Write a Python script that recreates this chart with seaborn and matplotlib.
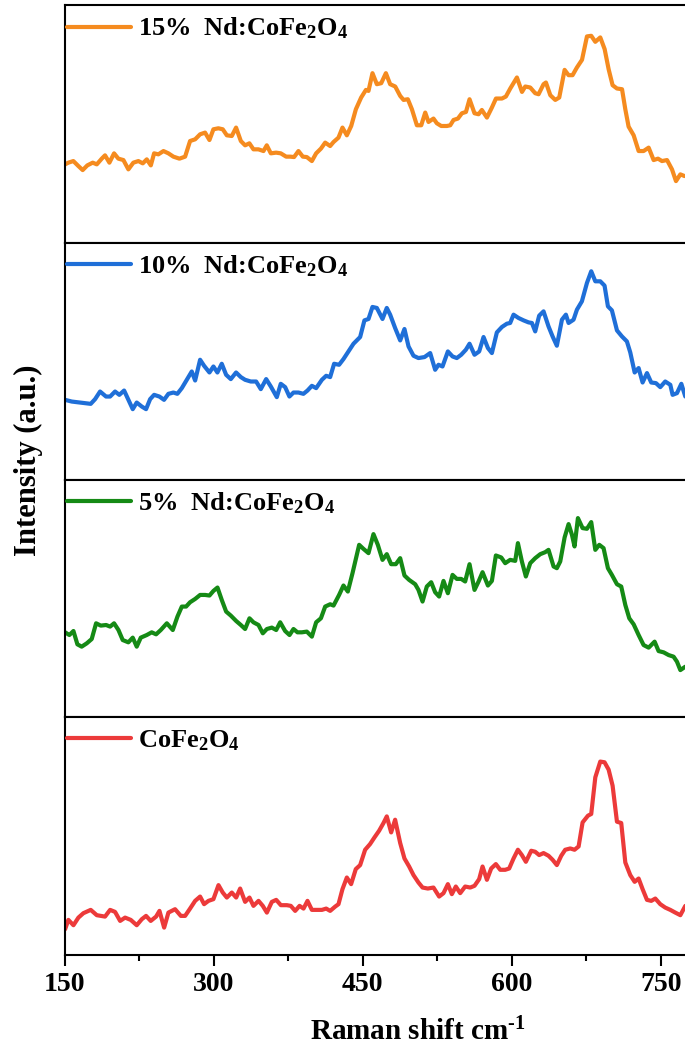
import matplotlib
matplotlib.use("Agg")
import matplotlib.pyplot as plt
from matplotlib.ticker import AutoMinorLocator
import seaborn as sns

# ---- Raman spectra (intensity in arbitrary units) ----
shift_15 = [150.5, 153.8, 158.8, 163.9, 168.2, 172.9, 178.3, 182.4, 187.4, 190.7,
            195.1, 199.8, 204.1, 209.2, 214.2, 219.2, 224.3, 228.7, 232.7, 236.8,
            240.1, 244.4, 249.5, 254.5, 259.5, 265.6, 271.3, 276.3, 281.4, 286.4,
            291.4, 295.8, 299.8, 304.8, 309.2, 313.3, 318.3, 322.6, 327.4, 331.7,
            336.0, 340.1, 345.1, 350.2, 353.5, 357.6, 362.9, 367.6, 373.0, 377.0,
            381.0, 385.4, 389.8, 393.8, 398.9, 403.2, 408.0, 412.3, 417.3, 420.7,
            425.7, 429.7, 434.1, 438.5, 443.2, 448.5, 453.3, 455.9, 459.9, 464.3,
            468.7, 473.4, 477.7, 482.8, 487.8, 491.2, 495.5, 499.6, 504.6, 509.0,
            513.0, 516.3, 521.3, 524.7, 529.1, 534.8, 538.2, 541.5, 545.9, 549.9,
            554.0, 557.6, 562.6, 566.7, 570.0, 575.1, 580.1, 584.2, 590.2, 594.2,
            598.6, 605.3, 610.4, 613.7, 618.7, 623.7, 627.1, 632.1, 634.5, 638.9,
            643.9, 647.9, 653.3, 657.3, 661.3, 665.7, 670.8, 675.8, 680.1, 684.2,
            689.2, 693.6, 697.6, 701.6, 706.0, 711.1, 714.4, 717.7, 722.8, 727.8,
            732.8, 737.9, 742.9, 747.3, 751.3, 756.4, 761.4, 765.4, 769.8, 774.1]
int_15 = [78, 79.7, 81.3, 76.3, 72.3, 77, 79.7, 78, 83.7, 87,
          79.7, 89, 83.7, 82.3, 73, 79.7, 81.3, 79, 83, 77,
          89, 88, 91.3, 89, 85.7, 83.7, 85.7, 101.3, 103, 108,
          109.7, 102.3, 113, 114, 113, 107, 106.3, 114.7, 101.3, 97,
          99, 93, 93, 91.3, 97, 89, 89.7, 89, 85.7, 85.7,
          85.3, 91.3, 85.7, 85.3, 81.3, 89, 93.7, 99.7, 96.3, 100.3,
          104.7, 114.7, 107, 116.3, 133, 144.7, 152.3, 151.3, 169, 158,
          159, 169, 158, 155.7, 146.3, 142.3, 143, 133, 117, 117,
          129.7, 120.3, 123.7, 119, 116.3, 116.3, 117, 122.3, 123.7, 129,
          130.3, 143, 129, 128, 132.3, 124.7, 134.7, 143.7, 143.7, 145.7,
          153.7, 164.7, 150.3, 155.7, 154.7, 149, 148, 158, 159.7, 147,
          142.3, 144.7, 172.3, 167, 167, 174.7, 182.3, 205.7, 206.3, 200.3,
          204.7, 193, 173, 157, 153.7, 153, 133, 115.7, 107, 91.3,
          91.3, 94.7, 82.3, 83.7, 81.3, 82.3, 73, 61.3, 68, 66.3]

shift_10 = [150.5, 157.2, 165.6, 176.3, 180.7, 185.7, 191.7, 195.8, 200.8, 205.1,
            209.9, 214.2, 218.6, 222.6, 227.7, 232.0, 236.1, 240.1, 245.4, 250.1,
            254.5, 259.5, 263.5, 268.0, 273.0, 278.0, 281.4, 286.4, 290.4, 295.8,
            299.8, 303.8, 308.2, 312.6, 317.3, 322.6, 327.4, 331.7, 337.4, 342.8,
            347.5, 352.9, 357.6, 363.6, 367.6, 372.0, 376.3, 380.4, 385.4, 390.4,
            394.5, 398.9, 403.2, 409.0, 413.3, 417.3, 421.3,
            426.3, 430.7, 435.7, 440.8, 447.5, 451.8, 455.9, 459.9, 464.3, 470.0,
            474.3, 477.7, 482.7, 487.8, 492.1, 496.2, 501.2, 506.2, 512.3, 518.0,
            523.0, 526.4, 530.4, 535.8, 540.5, 544.8, 549.2, 553.9, 557.6, 562.6,
            567.3, 571.7, 576.1, 580.1, 585.1, 590.2, 595.2, 598.5, 601.9, 606.9,
            612.0, 617.0, 620.4, 623.7, 627.7, 632.1, 637.1, 641.2, 645.5, 650.6,
            654.6, 657.3, 662.3, 665.7, 670.7, 675.8, 680.1, 684.2, 689.2, 693.5,
            696.9, 700.9, 706.0, 711.0, 716.0, 719.4, 723.8, 727.8, 731.8, 736.2,
            740.5, 745.2, 749.6, 754.6, 759.7, 762.0, 766.4, 770.8, 774.8]
int_10 = [80, 78.3, 77.3, 76, 80.7, 88.3, 83.3, 83.3, 88.3, 85,
          89.3, 80, 70.7, 77.3, 73.3, 70.7, 80.7, 85, 83.3, 80,
          86, 87.3, 86, 91.7, 100, 108.3, 99.3, 120, 114, 107.3,
          113.3, 107.3, 116, 105, 100.7, 107.3, 102.7, 100, 98.3, 98.3,
          90.7, 100.7, 93.3, 82.7, 96, 92.7, 83.3, 87.3, 87.3, 86,
          89.3, 94, 91.7, 100, 104, 102.7, 116,
          115, 120.7, 128.3, 136, 142.7, 159.3, 160.7, 172.7, 171.7, 160.7,
          171.7, 165, 151.7, 139.3, 150.7, 133.3, 124, 121.7, 122.7, 126.7,
          110, 115, 113.3, 128.3, 123.3, 121.7, 125, 130, 136, 125,
          128.3, 142.7, 131.7, 126.7, 147.3, 152.7, 156, 156.7, 165, 161.7,
          159.3, 157.3, 156.7, 148.3, 164, 168.3, 153.3, 143.3, 134, 160,
          165, 156.7, 160, 170, 178.3, 196.7, 208.3, 198.3, 198.3, 194,
          173.3, 169.3, 149.3, 143.3, 138.3, 127.3, 107.3, 111.7, 97.3, 106.7,
          97.3, 96.7, 92.7, 98.3, 95, 85, 86.7, 96, 83.3]

shift_5 = [150.5, 154.8, 158.9, 162.9, 167.2, 172.3, 177.3, 181.7, 186.4, 191.8,
           195.8, 199.8, 204.2, 208.5, 214.2, 218.6, 222.6, 226.7, 232.7, 237.7,
           242.1, 246.8, 252.9, 258.9, 263.6, 268.0, 272.3, 276.3, 281.4, 286.4,
           291.5, 295.8, 299.8, 303.9, 308.2, 312.6, 317.3, 322.7, 327.4, 331.7,
           336.1, 340.1, 345.2, 349.5, 353.6, 358.6, 363.0, 367.0, 372.0, 376.4,
           380.4, 384.4, 388.8, 393.8, 398.9, 403.2, 408.0, 412.3, 417.3, 420.7,
           426.3, 430.7, 435.1, 439.8, 446.5, 450.8, 455.9, 460.9, 465.3, 470.0,
           474.3, 478.7, 483.4, 487.8, 492.1, 496.8, 502.9, 506.2, 510.3, 514.6,
           519.0, 523.0, 527.0, 531.4, 535.8, 540.5, 544.8, 549.2, 553.2, 557.6,
           562.6, 566.7, 570.7, 576.1, 580.1, 584.1, 589.5, 593.5, 598.5, 603.6,
           606.3, 610.3, 614.3, 618.7, 623.7, 628.8, 633.8, 637.1, 642.2, 645.5,
           648.9, 653.3, 657.3, 660.7, 663.3, 666.7, 671.4, 675.8, 680.1, 684.2,
           688.2, 692.5, 696.9, 700.9, 706.0, 710.3, 714.4, 718.4, 722.8, 727.8,
           732.8, 737.9, 743.9, 747.9, 753.0, 758.0, 763.0, 766.4, 769.8, 774.8]
int_5 = [85, 82.3, 86.3, 73, 70.7, 74, 78.3, 94, 91.7, 92.3,
         90.7, 94, 87.3, 77.3, 75, 79.7, 70.7, 79.7, 82.3, 85,
         83, 87.3, 94, 87.3, 100.7, 110.7, 110.7, 115, 118.3, 122.3,
         122.3, 121.7, 126.3, 129.7, 117.3, 105.7, 101.7, 96.3, 92.3, 88.3,
         99, 95, 92.3, 84, 88.3, 89.7, 87.3, 95, 86.3, 82.3,
         88.3, 85, 85, 85.7, 80.7, 95, 99, 110.7, 113, 111.7,
         122.3, 131.7, 125.7, 144, 172.3, 168.3, 164, 183, 172.3, 157.3,
         163, 153, 153, 159, 141.7, 137.3, 133, 127.3, 115.7, 130.7,
         135, 125, 120.7, 136.3, 124, 142.3, 138.3, 138.3, 135.7, 153,
         127.3, 135.7, 145, 131.7, 136.3, 161.7, 159.7, 154, 157.3, 156.3,
         174, 155.7, 140.7, 154, 159, 163, 165, 167.3, 150.7, 149,
         155.7, 179.7, 193, 182.3, 170.7, 199, 189, 188.3, 195, 167.3,
         172.3, 169, 149, 142.3, 133, 130.7, 112.3, 99, 93, 82.3,
         72.3, 69.7, 75.7, 66.3, 65, 62.3, 60.7, 55.7, 47.3, 50.7]

shift_0 = [150.5, 153.8, 158.9, 163.9, 168.9, 176.3, 182.4, 190.7, 195.8, 200.8,
           205.9, 210.9, 216.6, 222.6, 227.7, 232.0, 236.7, 242.1, 245.5, 250.2,
           254.5, 261.2, 267.0, 271.3, 276.3, 281.4, 286.4, 290.4, 294.8, 299.8,
           304.9, 309.2, 313.3, 318.3, 322.7, 326.7, 331.7, 336.1, 340.1, 345.2,
           349.5, 353.6, 358.6, 363.0, 367.7, 373.7, 377.7, 382.1, 386.5, 390.5,
           394.5, 398.9, 403.9, 409.0, 413.3, 417.3, 422.4,
           425.7, 429.7, 434.1, 438.4, 443.1, 447.5, 452.5, 457.5, 461.9, 466.6,
           471.0, 474.3, 478.7, 482.7, 487.8, 492.1, 496.8, 501.2, 506.2, 510.3,
           515.6, 521.3, 527.0, 531.4, 535.8, 539.8, 543.8, 548.2, 553.2, 558.3,
           562.6, 567.3, 570.7, 575.1, 579.4, 584.1, 588.5, 593.5, 597.5, 601.9,
           606.3, 610.3, 614.3, 619.7, 623.7, 627.7, 632.1, 637.1, 641.2, 645.5,
           649.9, 653.9, 659.0, 663.3, 667.4, 671.4, 676.8, 680.1, 684.2, 689.2,
           693.5, 697.6, 701.6, 706.0, 710.3, 714.4, 719.4, 723.8, 727.8, 731.8,
           736.2, 740.5, 744.6, 749.6, 754.6, 759.7, 764.7, 769.8, 774.8]
int_0 = [25.7, 35, 29.7, 37.3, 41.7, 45, 39.7, 38.3, 45, 43,
         34, 37.3, 35, 29.7, 35.7, 39, 34, 38.3, 44, 27.3,
         42.3, 45.7, 39, 39, 46.3, 54, 58.3, 50.7, 54, 55.7,
         69.7, 62.3, 57.3, 62.3, 57.3, 66.3, 53, 57.3, 49, 54,
         49, 42.3, 53, 55, 49.7, 49.7, 49, 44, 49, 46.3,
         54, 45, 45, 45, 46.3, 44, 48.3,
         50.7, 65.7, 77.3, 70.7, 85.7, 89.7, 105, 110.7, 117.3, 124,
         131.7, 138.3, 122.3, 135, 111.7, 96.3, 88.3, 79.7, 72.3, 67.3,
         66.3, 67.3, 58.3, 61.7, 70.7, 60.7, 68.3, 61.7, 68.3, 67.3,
         69, 75.7, 88.3, 75, 86.3, 90.7, 85, 85, 86.3, 96.3,
         105, 99.7, 93, 104, 103, 99.7, 101.7, 99, 95, 89.7,
         99, 105, 106.3, 105, 108.3, 132.3, 139, 140.7, 177.3, 193,
         192.3, 185, 169, 133, 131.7, 92.3, 79.7, 73, 76.3, 65.7,
         55, 54, 56.3, 50.7, 47.3, 45, 42.3, 39.7, 49]

labels = ["15%  Nd:CoFe$_2$O$_4$", "10%  Nd:CoFe$_2$O$_4$",
          "5%  Nd:CoFe$_2$O$_4$", "CoFe$_2$O$_4$"]
colors = ["#F58B1F", "#1F6FD8", "#158A15", "#EC3A3A"]
shifts = [shift_15, shift_10, shift_5, shift_0]
intensities = [int_15, int_10, int_5, int_0]
xticks = [150, 300, 450, 600, 750]

# ---- style ----
sns.set_theme(style="ticks")
plt.rcParams["font.family"] = ["Liberation Serif", "DejaVu Serif"]
plt.rcParams["font.weight"] = "bold"
plt.rcParams["text.color"] = "black"
plt.rcParams["axes.labelcolor"] = "black"
plt.rcParams["xtick.color"] = "black"
plt.rcParams["ytick.color"] = "black"
plt.rcParams["axes.edgecolor"] = "black"
plt.rcParams["mathtext.fontset"] = "custom"
plt.rcParams["mathtext.rm"] = "Liberation Serif:bold"
plt.rcParams["mathtext.it"] = "Liberation Serif:bold"
plt.rcParams["mathtext.bf"] = "Liberation Serif:bold"
plt.rcParams["mathtext.default"] = "rm"

fig, axes = plt.subplots(4, 1, sharex=True, figsize=(6.85, 10.5), dpi=100)
fig.subplots_adjust(left=0.0943, right=1.008, bottom=0.0905, top=0.9952, hspace=0)

for ax, x, y, lab, col in zip(axes, shifts, intensities, labels, colors):
    sns.lineplot(x=x, y=y, ax=ax, color=col, linewidth=3.0, label=lab)
    ax.set_xlim(150, 780)
    ax.set_ylim(0, 237)
    ax.set_yticks([])
    ax.set_xlabel("")
    ax.set_ylabel("")
    for sp in ax.spines.values():
        sp.set_linewidth(1.5)
        sp.set_color("black")
    leg = ax.legend(loc="upper left", bbox_to_anchor=(0.0, 0.966),
                    frameon=False, fontsize=19,
                    handlelength=2.4, handletextpad=0.3,
                    borderaxespad=0.0, borderpad=0.1)
    for t in leg.get_texts():
        t.set_fontweight("bold")
        t.set_color("black")
    ax.tick_params(axis="x", which="both", bottom=False, labelbottom=False)

bottom = axes[-1]
bottom.set_xticks(xticks)
bottom.xaxis.set_minor_locator(AutoMinorLocator(2))
bottom.tick_params(axis="x", which="major", bottom=True, labelbottom=True,
                   direction="out", length=8, width=1.5, pad=4,
                   labelsize=20, colors="black")
bottom.tick_params(axis="x", which="minor", bottom=True,
                   direction="out", length=4.5, width=1.5, colors="black")
for lbl in bottom.get_xticklabels():
    lbl.set_fontweight("bold")

fig.text(417.5 / 685, 1 - 1040 / 1050, r"Raman shift cm$^{\text{-1}}$",
         fontsize=21, fontweight="bold", ha="center", va="baseline")
fig.text(28.5 / 685, 1 - 460 / 1050, "Intensity (a.u.)", rotation=90,
         fontsize=22, fontweight="bold", ha="center", va="center")

fig.savefig("out.png", dpi=100, facecolor="white")
